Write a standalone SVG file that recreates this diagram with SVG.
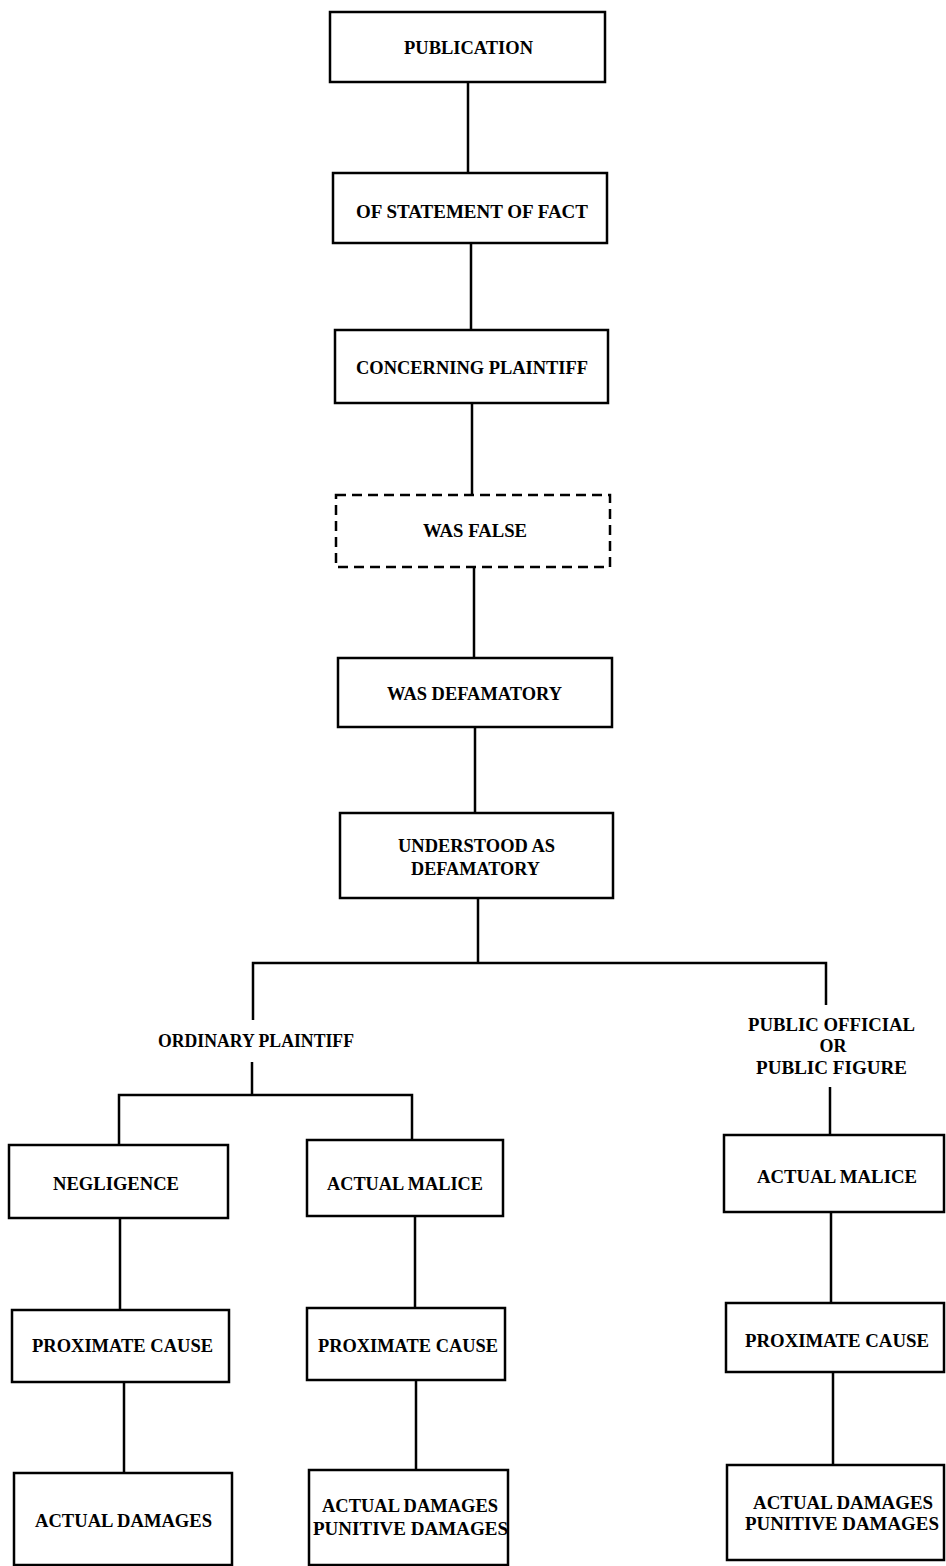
<svg xmlns="http://www.w3.org/2000/svg" width="946" height="1566" viewBox="0 0 946 1566">
<style>
.b{fill:#fff;stroke:#000;stroke-width:2.5}
.d{fill:#fff;stroke:#000;stroke-width:2.5;stroke-dasharray:10 6}
.c{fill:none;stroke:#000;stroke-width:2.5}
text{font-family:"Liberation Serif","Times New Roman",serif;font-weight:bold;font-size:19px;text-anchor:middle;fill:#000}
</style>
<rect width="946" height="1566" fill="#fff"/>
<g id="connectors">
<path class="c" d="M468 82V173M471 243V330M472 403V495M474 567V658M475 727V813M478 898V963"/>
<path class="c" d="M253 1020V963H826V1005"/>
<path class="c" d="M252 1062V1095M119 1145V1095H412V1140"/>
<path class="c" d="M830 1087V1135"/>
<path class="c" d="M120 1218V1310M124 1382V1473"/>
<path class="c" d="M415 1216V1308M416 1380V1470"/>
<path class="c" d="M831 1212V1303M833 1372V1465"/>
</g>
<g id="publication"><rect class="b" x="330" y="12" width="275" height="70"/><text x="468.5" y="53.5" textLength="129" lengthAdjust="spacingAndGlyphs">PUBLICATION</text></g>
<g id="statement"><rect class="b" x="333" y="173" width="274" height="70"/><text x="472" y="217.5" textLength="232" lengthAdjust="spacingAndGlyphs">OF STATEMENT OF FACT</text></g>
<g id="concerning"><rect class="b" x="335" y="330" width="273" height="73"/><text x="472" y="373.5" textLength="232" lengthAdjust="spacingAndGlyphs">CONCERNING PLAINTIFF</text></g>
<g id="false"><rect class="d" x="336" y="495" width="274" height="72"/><text x="475" y="536.5" textLength="104" lengthAdjust="spacingAndGlyphs">WAS FALSE</text></g>
<g id="defamatory"><rect class="b" x="338" y="658" width="274" height="69"/><text x="474.5" y="699.5" textLength="175" lengthAdjust="spacingAndGlyphs">WAS DEFAMATORY</text></g>
<g id="understood"><rect class="b" x="340" y="813" width="273" height="85"/><text x="476.5" y="851.5" textLength="157" lengthAdjust="spacingAndGlyphs">UNDERSTOOD AS</text><text x="475.5" y="874.5" textLength="129" lengthAdjust="spacingAndGlyphs">DEFAMATORY</text></g>
<g id="ordinary"><text x="256" y="1047" textLength="196" lengthAdjust="spacingAndGlyphs">ORDINARY PLAINTIFF</text></g>
<g id="public"><text x="831.5" y="1031" textLength="167" lengthAdjust="spacingAndGlyphs">PUBLIC OFFICIAL</text><text x="833" y="1052" textLength="27" lengthAdjust="spacingAndGlyphs">OR</text><text x="831.5" y="1074" textLength="151" lengthAdjust="spacingAndGlyphs">PUBLIC FIGURE</text></g>
<g id="negligence"><rect class="b" x="9" y="1145" width="219" height="73"/><text x="116" y="1189.5" textLength="126" lengthAdjust="spacingAndGlyphs">NEGLIGENCE</text></g>
<g id="malice1"><rect class="b" x="307" y="1140" width="196" height="76"/><text x="405" y="1189.5" textLength="156" lengthAdjust="spacingAndGlyphs">ACTUAL MALICE</text></g>
<g id="malice2"><rect class="b" x="724" y="1135" width="220" height="77"/><text x="837" y="1182.5" textLength="160" lengthAdjust="spacingAndGlyphs">ACTUAL MALICE</text></g>
<g id="cause1"><rect class="b" x="12" y="1310" width="217" height="72"/><text x="122.5" y="1351.5" textLength="181" lengthAdjust="spacingAndGlyphs">PROXIMATE CAUSE</text></g>
<g id="cause2"><rect class="b" x="307" y="1308" width="198" height="72"/><text x="408" y="1351.5" textLength="180" lengthAdjust="spacingAndGlyphs">PROXIMATE CAUSE</text></g>
<g id="cause3"><rect class="b" x="726" y="1303" width="218" height="69"/><text x="837" y="1346.5" textLength="184" lengthAdjust="spacingAndGlyphs">PROXIMATE CAUSE</text></g>
<g id="damages1"><rect class="b" x="14" y="1473" width="218" height="92"/><text x="123.5" y="1526.5" textLength="177" lengthAdjust="spacingAndGlyphs">ACTUAL DAMAGES</text></g>
<g id="damages2"><rect class="b" x="309" y="1470" width="199" height="95"/><text x="410" y="1511.5" textLength="176" lengthAdjust="spacingAndGlyphs">ACTUAL DAMAGES</text><text x="410.5" y="1534.5" textLength="195" lengthAdjust="spacingAndGlyphs">PUNITIVE DAMAGES</text></g>
<g id="damages3"><rect class="b" x="727" y="1465" width="217" height="95"/><text x="843" y="1508.5" textLength="180" lengthAdjust="spacingAndGlyphs">ACTUAL DAMAGES</text><text x="842" y="1529.5" textLength="194" lengthAdjust="spacingAndGlyphs">PUNITIVE DAMAGES</text></g>
</svg>
